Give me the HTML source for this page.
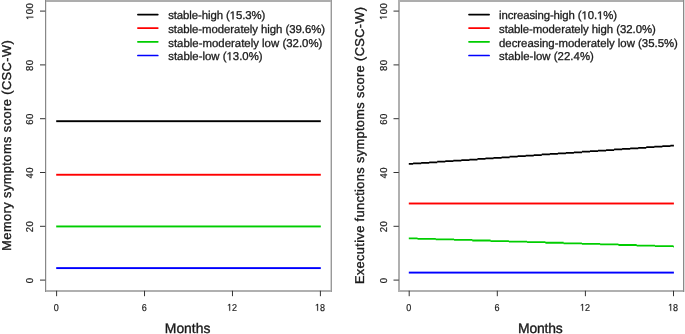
<!DOCTYPE html>
<html><head><meta charset="utf-8"><style>
html,body{margin:0;padding:0;background:#fff;}
svg{display:block;will-change:transform;}
.t{font-family:"Liberation Sans",sans-serif;fill:#1a1a1a;text-rendering:geometricPrecision;}
.l{stroke:#1a1a1a;stroke-width:0.3px;}
.b1{stroke:#1a1a1a;stroke-width:0.35px;}
.b2{stroke:#1a1a1a;stroke-width:0.2px;}
.one{fill-opacity:0;stroke-opacity:0;}
</style></head><body>
<svg width="685" height="334" viewBox="0 0 685 334">
<defs><filter id="sb" x="-5%" y="-50%" width="110%" height="200%"><feGaussianBlur stdDeviation="0.3"/></filter></defs>
<rect width="685" height="334" fill="#fff"/>
<rect x="45" y="0" width="287" height="2" fill="#adadad"/>
<rect x="45" y="290" width="287" height="2" fill="#b0b0b0"/>
<rect x="45" y="0" width="1" height="292" fill="#888"/>
<rect x="46" y="2" width="1" height="288" fill="#e6e6e6"/>
<rect x="330" y="2" width="1" height="288" fill="#d4d4d4"/>
<rect x="331" y="0" width="1" height="292" fill="#999"/>
<rect x="56.20" y="120.25" width="264.60" height="1.90" fill="#000"/>
<rect x="56.20" y="173.80" width="264.60" height="1.90" fill="#ff0000"/>
<rect x="56.20" y="225.50" width="264.60" height="1.90" fill="#00cd00"/>
<rect x="56.20" y="267.15" width="264.60" height="1.90" fill="#0000ff"/>
<line x1="56.60" y1="290.76" x2="56.60" y2="296.2" stroke="#333" stroke-width="1"/>
<text transform="translate(56.20,310.8) scale(0.9,1)" font-size="10.0" text-anchor="middle" class="t b2">0</text>
<line x1="144.53" y1="290.76" x2="144.53" y2="296.2" stroke="#333" stroke-width="1"/>
<text transform="translate(144.13,310.8) scale(0.9,1)" font-size="10.0" text-anchor="middle" class="t b2">6</text>
<line x1="232.47" y1="290.76" x2="232.47" y2="296.2" stroke="#333" stroke-width="1"/>
<text transform="translate(232.07,310.8) scale(0.9,1)" font-size="10.0" text-anchor="middle" class="t b2"><tspan class="one">1</tspan>2</text>
<line x1="320.40" y1="290.76" x2="320.40" y2="296.2" stroke="#333" stroke-width="1"/>
<text transform="translate(320.00,310.8) scale(0.9,1)" font-size="10.0" text-anchor="middle" class="t b2"><tspan class="one">1</tspan>8</text>
<line x1="40.00" y1="280.10" x2="45.30" y2="280.10" stroke="#333" stroke-width="1"/>
<text transform="translate(33.30,280.60) rotate(-90) scale(0.95,1) translate(0.25,0)" font-size="10.0" letter-spacing="0.5" text-anchor="middle" class="t b2">0</text>
<line x1="40.00" y1="226.30" x2="45.30" y2="226.30" stroke="#333" stroke-width="1"/>
<text transform="translate(33.30,226.80) rotate(-90) scale(0.95,1) translate(0.25,0)" font-size="10.0" letter-spacing="0.5" text-anchor="middle" class="t b2">20</text>
<line x1="40.00" y1="172.50" x2="45.30" y2="172.50" stroke="#333" stroke-width="1"/>
<text transform="translate(33.30,173.00) rotate(-90) scale(0.95,1) translate(0.25,0)" font-size="10.0" letter-spacing="0.5" text-anchor="middle" class="t b2">40</text>
<line x1="40.00" y1="118.70" x2="45.30" y2="118.70" stroke="#333" stroke-width="1"/>
<text transform="translate(33.30,119.20) rotate(-90) scale(0.95,1) translate(0.25,0)" font-size="10.0" letter-spacing="0.5" text-anchor="middle" class="t b2">60</text>
<line x1="40.00" y1="64.90" x2="45.30" y2="64.90" stroke="#333" stroke-width="1"/>
<text transform="translate(33.30,65.40) rotate(-90) scale(0.95,1) translate(0.25,0)" font-size="10.0" letter-spacing="0.5" text-anchor="middle" class="t b2">80</text>
<line x1="40.00" y1="11.10" x2="45.30" y2="11.10" stroke="#333" stroke-width="1"/>
<text transform="translate(33.30,11.60) rotate(-90) scale(0.95,1) translate(0.25,0)" font-size="10.0" letter-spacing="0.5" text-anchor="middle" class="t b2"><tspan class="one">1</tspan>00</text>
<text x="187.60" y="332.6" font-size="13.9" text-anchor="middle" class="t b1" textLength="45.56" lengthAdjust="spacing">Months</text>
<text transform="translate(11.10,145.50) rotate(-90)" font-size="12.8" text-anchor="middle" class="t b1" textLength="210.44" lengthAdjust="spacing">Memory symptoms score (CSC-W)</text>
<line x1="137.90" y1="14.6" x2="157.80" y2="14.6" stroke="#000" stroke-width="1.7" stroke-linecap="round"/>
<text x="168.20" y="19.30" font-size="11.4" class="t l" textLength="97.10" lengthAdjust="spacing">stable-high (<tspan class="one">1</tspan>5.3%)</text>
<line x1="137.90" y1="28.1" x2="157.80" y2="28.1" stroke="#ff0000" stroke-width="1.7" stroke-linecap="round"/>
<text x="168.20" y="32.80" font-size="11.4" class="t l" textLength="156.88" lengthAdjust="spacing">stable-moderately high (39.6%)</text>
<line x1="137.90" y1="41.8" x2="157.80" y2="41.8" stroke="#00cd00" stroke-width="1.7" stroke-linecap="round"/>
<text x="168.20" y="46.50" font-size="11.4" class="t l" textLength="154.14" lengthAdjust="spacing">stable-moderately low (32.0%)</text>
<line x1="137.90" y1="55.5" x2="157.80" y2="55.5" stroke="#0000ff" stroke-width="1.7" stroke-linecap="round"/>
<text x="168.20" y="60.20" font-size="11.4" class="t l" textLength="94.42" lengthAdjust="spacing">stable-low (<tspan class="one">1</tspan>3.0%)</text>
<rect x="398" y="0" width="286" height="2" fill="#adadad"/>
<rect x="398" y="290" width="286" height="2" fill="#b0b0b0"/>
<rect x="398" y="0" width="2" height="292" fill="#b0b0b0"/>
<rect x="683" y="0" width="1" height="292" fill="#8a8a8a"/>
<rect x="684" y="0" width="1" height="292" fill="#dcdcdc"/>
<path d="M408.80 163.11H413.12V164.86H408.80ZM413.11 162.55H421.20V164.30H413.11ZM421.19 161.99H429.22V163.74H421.19ZM429.21 161.43H437.24V163.18H429.21ZM437.23 160.87H445.33V162.62H437.23ZM445.32 160.32H453.35V162.07H445.32ZM453.34 159.76H461.37V161.51H453.34ZM461.36 159.20H469.45V160.95H461.36ZM469.44 158.64H477.47V160.39H469.44ZM477.46 158.08H485.49V159.83H477.46ZM485.48 157.53H493.51V159.28H485.48ZM493.50 156.97H501.59V158.72H493.50ZM501.58 156.41H509.61V158.16H501.58ZM509.60 155.85H517.63V157.60H509.60ZM517.62 155.29H525.72V157.04H517.62ZM525.71 154.74H533.74V156.49H525.71ZM533.73 154.18H541.76V155.93H533.73ZM541.75 153.62H549.84V155.37H541.75ZM549.83 153.06H557.86V154.81H549.83ZM557.85 152.50H565.88V154.25H557.85ZM565.87 151.95H573.90V153.70H565.87ZM573.89 151.39H581.99V153.14H573.89ZM581.98 150.83H590.01V152.58H581.98ZM590.00 150.27H598.03V152.02H590.00ZM598.02 149.71H606.11V151.46H598.02ZM606.10 149.16H614.13V150.91H606.10ZM614.12 148.60H622.15V150.35H614.12ZM622.14 148.04H630.23V149.79H622.14ZM630.22 147.48H638.25V149.23H630.22ZM638.24 146.92H646.27V148.67H638.24ZM646.26 146.37H654.36V148.12H646.26ZM654.35 145.81H662.38V147.56H654.35ZM662.37 145.25H670.40V147.00H662.37ZM670.39 144.69H673.91V146.44H670.39Z" fill="#000" filter="url(#sb)"/>
<rect x="408.80" y="202.55" width="265.10" height="1.90" fill="#ff0000"/>
<path d="M408.80 237.39H417.56V239.19H408.80ZM417.55 237.94H435.78V239.74H417.55ZM435.77 238.50H454.08V240.30H435.77ZM454.07 239.06H472.30V240.86H454.07ZM472.29 239.62H490.59V241.42H472.29ZM490.58 240.18H508.89V241.98H490.58ZM508.88 240.73H527.11V242.53H508.88ZM527.10 241.29H545.40V243.09H527.10ZM545.39 241.85H563.63V243.65H545.39ZM563.62 242.41H581.92V244.21H563.62ZM581.91 242.97H600.15V244.77H581.91ZM600.14 243.52H618.44V245.32H600.14ZM618.43 244.08H636.66V245.88H618.43ZM636.65 244.64H654.96V246.44H636.65ZM654.95 245.20H673.25V247.00H654.95ZM673.24 245.76H673.91V247.56H673.24Z" fill="#00cd00" filter="url(#sb)"/>
<rect x="408.80" y="271.65" width="265.10" height="1.90" fill="#0000ff"/>
<line x1="409.20" y1="290.76" x2="409.20" y2="296.2" stroke="#333" stroke-width="1"/>
<text transform="translate(408.80,310.8) scale(0.9,1)" font-size="10.0" text-anchor="middle" class="t b2">0</text>
<line x1="497.30" y1="290.76" x2="497.30" y2="296.2" stroke="#333" stroke-width="1"/>
<text transform="translate(496.90,310.8) scale(0.9,1)" font-size="10.0" text-anchor="middle" class="t b2">6</text>
<line x1="585.40" y1="290.76" x2="585.40" y2="296.2" stroke="#333" stroke-width="1"/>
<text transform="translate(585.00,310.8) scale(0.9,1)" font-size="10.0" text-anchor="middle" class="t b2"><tspan class="one">1</tspan>2</text>
<line x1="673.50" y1="290.76" x2="673.50" y2="296.2" stroke="#333" stroke-width="1"/>
<text transform="translate(673.10,310.8) scale(0.9,1)" font-size="10.0" text-anchor="middle" class="t b2"><tspan class="one">1</tspan>8</text>
<line x1="393.50" y1="280.10" x2="398.80" y2="280.10" stroke="#333" stroke-width="1"/>
<text transform="translate(386.80,280.60) rotate(-90) scale(0.95,1) translate(0.25,0)" font-size="10.0" letter-spacing="0.5" text-anchor="middle" class="t b2">0</text>
<line x1="393.50" y1="226.30" x2="398.80" y2="226.30" stroke="#333" stroke-width="1"/>
<text transform="translate(386.80,226.80) rotate(-90) scale(0.95,1) translate(0.25,0)" font-size="10.0" letter-spacing="0.5" text-anchor="middle" class="t b2">20</text>
<line x1="393.50" y1="172.50" x2="398.80" y2="172.50" stroke="#333" stroke-width="1"/>
<text transform="translate(386.80,173.00) rotate(-90) scale(0.95,1) translate(0.25,0)" font-size="10.0" letter-spacing="0.5" text-anchor="middle" class="t b2">40</text>
<line x1="393.50" y1="118.70" x2="398.80" y2="118.70" stroke="#333" stroke-width="1"/>
<text transform="translate(386.80,119.20) rotate(-90) scale(0.95,1) translate(0.25,0)" font-size="10.0" letter-spacing="0.5" text-anchor="middle" class="t b2">60</text>
<line x1="393.50" y1="64.90" x2="398.80" y2="64.90" stroke="#333" stroke-width="1"/>
<text transform="translate(386.80,65.40) rotate(-90) scale(0.95,1) translate(0.25,0)" font-size="10.0" letter-spacing="0.5" text-anchor="middle" class="t b2">80</text>
<line x1="393.50" y1="11.10" x2="398.80" y2="11.10" stroke="#333" stroke-width="1"/>
<text transform="translate(386.80,11.60) rotate(-90) scale(0.95,1) translate(0.25,0)" font-size="10.0" letter-spacing="0.5" text-anchor="middle" class="t b2"><tspan class="one">1</tspan>00</text>
<text x="540.40" y="332.6" font-size="13.9" text-anchor="middle" class="t b1" textLength="44.82" lengthAdjust="spacing">Months</text>
<text transform="translate(363.70,145.50) rotate(-90)" font-size="12.8" text-anchor="middle" class="t b1" textLength="277.15" lengthAdjust="spacing">Executive functions symptoms score (CSC-W)</text>
<line x1="469.00" y1="14.6" x2="489.10" y2="14.6" stroke="#000" stroke-width="1.7" stroke-linecap="round"/>
<text x="499.00" y="19.30" font-size="11.4" class="t l" textLength="118.07" lengthAdjust="spacing">increasing-high (<tspan class="one">1</tspan>0.<tspan class="one">1</tspan>%)</text>
<line x1="469.00" y1="28.1" x2="489.10" y2="28.1" stroke="#ff0000" stroke-width="1.7" stroke-linecap="round"/>
<text x="499.00" y="32.80" font-size="11.4" class="t l" textLength="156.84" lengthAdjust="spacing">stable-moderately high (32.0%)</text>
<line x1="469.00" y1="41.8" x2="489.10" y2="41.8" stroke="#00cd00" stroke-width="1.7" stroke-linecap="round"/>
<text x="499.00" y="46.50" font-size="11.4" class="t l" textLength="178.89" lengthAdjust="spacing">decreasing-moderately low (35.5%)</text>
<line x1="469.00" y1="55.5" x2="489.10" y2="55.5" stroke="#0000ff" stroke-width="1.7" stroke-linecap="round"/>
<text x="499.00" y="60.20" font-size="11.4" class="t l" textLength="94.86" lengthAdjust="spacing">stable-low (22.4%)</text>
<g transform="translate(232.07,310.8) scale(0.9,1)"><path class="t b2" d="M-3.048 0.000 L-2.164 0.000 L-2.164 -6.880 L-2.975 -6.880 L-4.601 -5.762 L-4.601 -4.932 L-3.048 -6.040Z"/></g>
<g transform="translate(320.00,310.8) scale(0.9,1)"><path class="t b2" d="M-3.048 0.000 L-2.164 0.000 L-2.164 -6.880 L-2.975 -6.880 L-4.601 -5.762 L-4.601 -4.932 L-3.048 -6.040Z"/></g>
<g transform="translate(33.30,11.60) rotate(-90) scale(0.95,1) translate(0.25,0)"><path class="t b2" d="M-6.579 0.000 L-5.695 0.000 L-5.695 -6.880 L-6.506 -6.880 L-8.132 -5.762 L-8.132 -4.932 L-6.579 -6.040Z"/></g>
<path class="t l" d="M232.528 19.300 L233.535 19.300 L233.535 11.457 L232.611 11.457 L230.758 12.732 L230.758 13.678 L232.528 12.414Z"/>
<path class="t l" d="M229.356 60.200 L230.363 60.200 L230.363 52.357 L229.439 52.357 L227.586 53.632 L227.586 54.578 L229.356 53.314Z"/>
<g transform="translate(585.00,310.8) scale(0.9,1)"><path class="t b2" d="M-3.048 0.000 L-2.164 0.000 L-2.164 -6.880 L-2.975 -6.880 L-4.601 -5.762 L-4.601 -4.932 L-3.048 -6.040Z"/></g>
<g transform="translate(673.10,310.8) scale(0.9,1)"><path class="t b2" d="M-3.048 0.000 L-2.164 0.000 L-2.164 -6.880 L-2.975 -6.880 L-4.601 -5.762 L-4.601 -4.932 L-3.048 -6.040Z"/></g>
<g transform="translate(386.80,11.60) rotate(-90) scale(0.95,1) translate(0.25,0)"><path class="t b2" d="M-6.579 0.000 L-5.695 0.000 L-5.695 -6.880 L-6.506 -6.880 L-8.132 -5.762 L-8.132 -4.932 L-6.579 -6.040Z"/></g>
<path class="t l" d="M584.338 19.300 L585.345 19.300 L585.345 11.457 L584.421 11.457 L582.568 12.732 L582.568 13.678 L584.338 12.414Z"/>
<path class="t l" d="M599.872 19.300 L600.880 19.300 L600.880 11.457 L599.956 11.457 L598.102 12.732 L598.102 13.678 L599.872 12.414Z"/>
</svg></body></html>
